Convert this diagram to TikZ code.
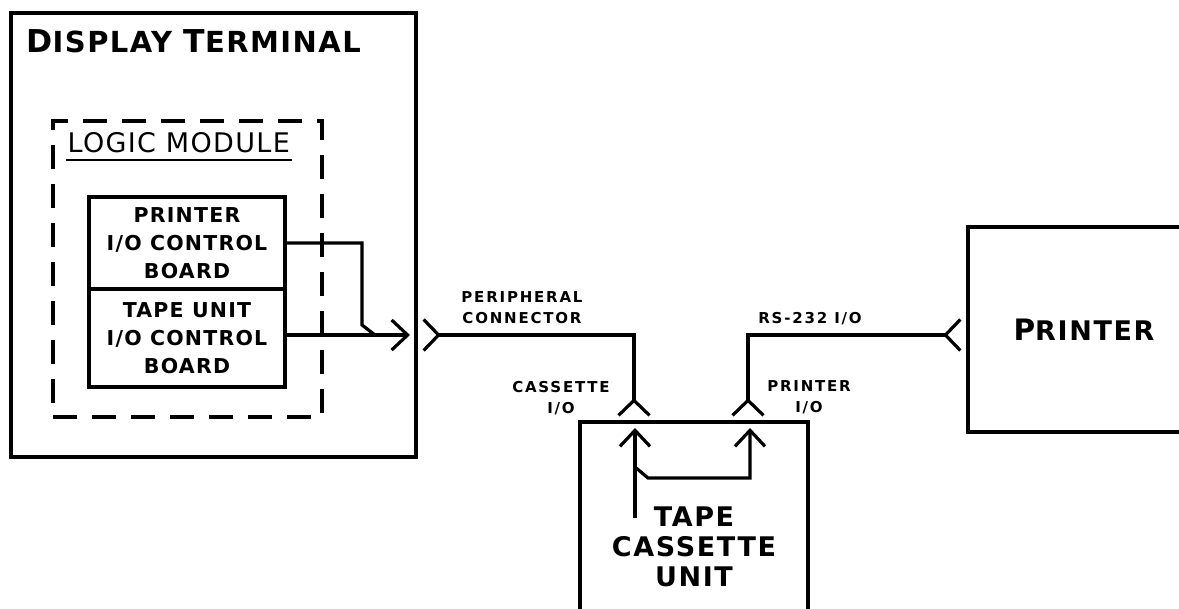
\documentclass[tikz,border=0pt]{standalone}
\usepackage{fontspec}
\setmainfont{DejaVu Sans}
\usetikzlibrary{positioning,arrows.meta}

\begin{document}
\begin{tikzpicture}[x=1pt,y=-1pt,line width=3.2pt,node distance=0pt]
  \tikzstyle{unitbox}=[draw,rectangle,inner sep=0pt,outer sep=0pt,align=center,
    font={\fontsize{27}{30}\selectfont\bfseries\addfontfeature{LetterSpace=6}}]
  \tikzstyle{boardbox}=[draw,rectangle,inner sep=0pt,outer sep=0pt,minimum width=196pt,align=center,
    font={\fontsize{20.5}{28}\selectfont\bfseries\addfontfeature{LetterSpace=6}}]
  \tikzstyle{portlabel}=[inner sep=0pt,align=center,
    font={\fontsize{15}{21}\selectfont\bfseries\addfontfeature{LetterSpace=12}}]
  \tikzstyle{jack}=[-{Straight Barb[length=16pt,width=30pt]}]
  \tikzstyle{socket}=[{Straight Barb[reversed,length=15pt,width=31pt]}-{Straight Barb[reversed,length=15pt,width=31pt]}]
  \useasboundingbox (0,0) rectangle (1179,609);

  % display terminal with logic module
  \node[draw,minimum width=405pt,minimum height=444pt] (dt) at (213.5,235) {};
  \node[anchor=base west,inner sep=0pt,
    font={\fontsize{29}{30}\selectfont\bfseries\addfontfeature{LetterSpace=5}}] (dttitle) at (25,53)
    {{\fontsize{31.5}{30}\selectfont D}ISPLAY {\fontsize{31.5}{30}\selectfont T}ERMINAL};
  \node[draw,dash pattern=on 24pt off 15pt,minimum width=269pt,minimum height=296pt] (lm) at (187.5,269) {};
  \node[anchor=base west,inner sep=0pt,
    font={\fontsize{27}{30}\selectfont\addfontfeature{LetterSpace=5}}] (lmtitle) at (66,153) {LOGIC MODULE};
  \draw[line width=2.4pt] ([yshift=-7pt]lmtitle.base west) -- ([yshift=-7pt]lmtitle.base east);
  \node[boardbox,minimum height=92pt] (pb) at (187,243) {PRINTER\\I/O CONTROL\\BOARD};
  \node[boardbox,minimum height=98pt,below=of pb] (tb) {TAPE UNIT\\I/O CONTROL\\BOARD};

  % printer and tape cassette unit
  \node[unitbox,minimum width=232pt,minimum height=205pt] (printer) at (1084,329.5)
    {{\fontsize{29.5}{30}\selectfont P}RINTER};
  \node[unitbox,minimum width=228pt,minimum height=250pt] (tcu) at (694,547) {TAPE\\CASSETTE\\UNIT};

  % port labels
  \node[portlabel] (perlabel) at (522,307.5) {PERIPHERAL\\CONNECTOR};
  \node[portlabel] (caslabel) at (561,398) {CASSETTE\\I/O};
  \node[portlabel] (prtlabel) at (809,397) {PRINTER\\I/O};
  \node[portlabel] (rslabel) at (810,319) {RS-232 I/O};

  % connectors
  \coordinate (jackdt) at (410,335);
  \coordinate (bend) at (362,325);
  \coordinate (merge) at (375,335);
  \coordinate (plugdt) at (422,335);
  \coordinate (casport) at (634,417);
  \coordinate (prtport) at (748,417);
  \coordinate (prtplug) at (962,335);
  \coordinate (casin) at (635,428);
  \coordinate (prtin) at (750,428);
  \coordinate (casfoot) at (635,518);
  \coordinate (split) at (635,467);
  \coordinate (kink) at (648,478);

  \draw[jack] (tb.east |- jackdt) -- (jackdt);
  \draw (pb.east) -| (bend) -- (merge);
  \draw[socket] (plugdt) -| (casport);
  \draw[socket] (prtport) |- (prtplug);
  \draw[jack] (casfoot) -- (casin);
  \draw[jack] (split) -- (kink) -| (prtin);
\end{tikzpicture}
\end{document}
